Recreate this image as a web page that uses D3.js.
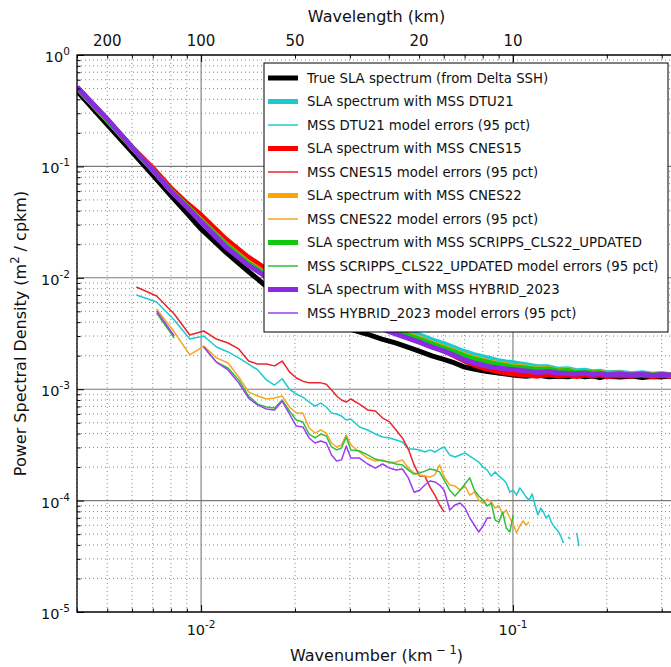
<!DOCTYPE html>
<html><head><meta charset="utf-8">
<script src="https://cdn.jsdelivr.net/npm/d3@7"></script>
<style>body{margin:0;background:#fff} svg{display:block} text{font-family:"DejaVu Sans",sans-serif;fill:#111}</style>
</head><body><svg id="c" width="671" height="667"></svg>
<script>
// ---------- data ----------
const kMain = [0.004,0.005,0.006,0.007,0.008,0.009,0.010,0.012,0.014,0.016,0.018,0.020,0.023,0.026,0.030,0.034,0.038,0.042,0.046,0.050,0.055,0.060,0.065,0.070,0.075,0.080,0.085,0.090,0.095,0.100,
  0.11,0.12,0.13,0.14,0.15,0.16,0.17,0.18,0.19,0.20,0.22,0.24,0.26,0.28,0.30,0.32,0.3333];
const psdTrue = [0.475,0.238,0.135,0.0837,0.0548,0.0382,0.0274,0.0170,0.01175,8.61e-3,6.72e-3,5.70e-3,4.73e-3,4.01e-3,3.47e-3,3.13e-3,2.82e-3,2.60e-3,2.39e-3,2.20e-3,1.99e-3,1.85e-3,1.72e-3,1.58e-3,1.52e-3,1.46e-3,1.43e-3,1.40e-3,1.37e-3,1.34e-3,
  1.31e-3,1.34e-3,1.29e-3,1.31e-3,1.29e-3,1.33e-3,1.29e-3,1.31e-3,1.27e-3,1.31e-3,1.29e-3,1.31e-3,1.27e-3,1.30e-3,1.29e-3,1.31e-3,1.29e-3];
const psdDTU21 = [0.511,0.261,0.149,0.0930,0.0614,0.0450,0.0344,0.0210,0.01475,0.01151,9.55e-3,8.09e-3,6.86e-3,5.94e-3,5.03e-3,4.45e-3,3.93e-3,3.54e-3,3.26e-3,3.06e-3,2.76e-3,2.55e-3,2.34e-3,2.16e-3,2.03e-3,1.95e-3,1.87e-3,1.79e-3,1.75e-3,1.72e-3,
  1.65e-3,1.58e-3,1.58e-3,1.50e-3,1.52e-3,1.46e-3,1.47e-3,1.43e-3,1.44e-3,1.40e-3,1.41e-3,1.37e-3,1.40e-3,1.355e-3,1.38e-3,1.34e-3,1.37e-3];
const psdCNES15 = [0.511,0.261,0.149,0.0967,0.0640,0.0469,0.0366,0.0223,0.0157,0.01225,0.01017,8.61e-3,7.16e-3,6.06e-3,5.03e-3,4.36e-3,3.77e-3,3.40e-3,3.13e-3,2.82e-3,2.49e-3,2.20e-3,1.99e-3,1.79e-3,1.65e-3,1.55e-3,1.49e-3,1.43e-3,1.40e-3,1.37e-3,
  1.34e-3,1.31e-3,1.355e-3,1.31e-3,1.34e-3,1.30e-3,1.34e-3,1.31e-3,1.34e-3,1.30e-3,1.33e-3,1.31e-3,1.34e-3,1.30e-3,1.33e-3,1.31e-3,1.34e-3];
const psdCNES22 = [0.511,0.261,0.149,0.0930,0.0607,0.0441,0.0330,0.0201,0.01415,0.01104,9.16e-3,7.77e-3,6.58e-3,5.70e-3,4.93e-3,4.36e-3,3.85e-3,3.47e-3,3.13e-3,2.88e-3,2.60e-3,2.39e-3,2.20e-3,2.03e-3,1.91e-3,1.83e-3,1.75e-3,1.70e-3,1.665e-3,1.61e-3,
  1.58e-3,1.52e-3,1.535e-3,1.47e-3,1.49e-3,1.43e-3,1.44e-3,1.40e-3,1.43e-3,1.38e-3,1.40e-3,1.355e-3,1.38e-3,1.34e-3,1.37e-3,1.34e-3,1.37e-3];
const psdSCRIPPS = [0.511,0.261,0.149,0.0930,0.0607,0.0441,0.0326,0.0199,0.01386,0.01082,8.96e-3,7.61e-3,6.45e-3,5.57e-3,4.83e-3,4.27e-3,3.77e-3,3.40e-3,3.06e-3,2.82e-3,2.55e-3,2.34e-3,2.16e-3,1.99e-3,1.87e-3,1.79e-3,1.72e-3,1.665e-3,1.63e-3,1.58e-3,
  1.55e-3,1.50e-3,1.52e-3,1.46e-3,1.47e-3,1.41e-3,1.43e-3,1.40e-3,1.41e-3,1.37e-3,1.38e-3,1.355e-3,1.37e-3,1.34e-3,1.355e-3,1.33e-3,1.355e-3];
const psdHYBRID = [0.516,0.267,0.149,0.0930,0.0601,0.0432,0.0317,0.0189,0.0133,0.01038,8.61e-3,7.30e-3,6.06e-3,5.24e-3,4.54e-3,3.93e-3,3.47e-3,3.13e-3,2.88e-3,2.65e-3,2.39e-3,2.20e-3,2.01e-3,1.83e-3,1.72e-3,1.65e-3,1.58e-3,1.55e-3,1.52e-3,1.50e-3,
  1.46e-3,1.41e-3,1.44e-3,1.40e-3,1.38e-3,1.37e-3,1.40e-3,1.355e-3,1.38e-3,1.34e-3,1.37e-3,1.34e-3,1.37e-3,1.33e-3,1.355e-3,1.34e-3,1.37e-3];

const kErr = [0.0062,0.0072,0.0082,0.0092,0.0102,0.0112,0.0122,0.0132,0.0142,0.0152,0.0162,0.0172,0.0182,0.0192,0.0202,0.0212,0.0222,0.0232,0.0242,0.0252,0.0262,0.0272,0.0282,0.0292,0.0302,
  0.0322,0.0342,0.0362,0.0382,0.0402,0.0422,0.0442,0.0462,0.0482,0.0502,0.0522,0.0542,0.0562,0.0582,0.0602,
  0.0627,0.0652,0.0677,0.0702,0.0727,0.0752,0.0777,0.0802,0.0827,0.0852,0.0877,0.0902,0.0927,0.0952,0.0977,0.1002,0.1027,0.1052,0.1077,0.1102,
  0.1127,0.1152,0.1177,0.1202,0.1227,0.1252,0.1277,0.1302,0.1327,0.1352,0.1377,0.1402,0.1427,0.1452,0.1477,0.1502,0.1527,0.1552,0.1577,0.1602,0.1627];
const errDTU21 = [7.0e-3,6.06e-3,4.18e-3,2.82e-3,3.0e-3,2.39e-3,2.16e-3,1.91e-3,1.68e-3,1.49e-3,1.21e-3,1.09e-3,1.24e-3,1.0e-3,9.05e-4,8.5e-4,7.67e-4,7.06e-4,7.5e-4,6.92e-4,6.11e-4,5.99e-4,5.74e-4,5.29e-4,5.40e-4,
  4.58e-4,4.30e-4,3.96e-4,3.72e-4,3.65e-4,3.50e-4,3.36e-4,2.90e-4,2.90e-4,2.85e-4,2.73e-4,2.85e-4,2.73e-4,2.90e-4,3.03e-4,
  2.57e-4,2.46e-4,2.57e-4,2.68e-4,2.51e-4,2.36e-4,2.22e-4,2.0e-4,1.88e-4,1.66e-4,1.81e-4,1.66e-4,1.56e-4,1.44e-4,1.19e-4,1.24e-4,1.12e-4,1.30e-4,1.19e-4,1.08e-4,
  1.01e-4,1.15e-4,9.12e-5,7.42e-5,8.58e-5,7.9e-5,6.98e-5,7.42e-5,6.42e-5,5.91e-5,5.56e-5,5.22e-5,4.71e-5,4.16e-5,null,4.71e-5,4.52e-5,null,null,5.12e-5,3.91e-5];
const errCNES15 = [8.27e-3,6.87e-3,4.73e-3,3.07e-3,3.33e-3,2.82e-3,2.60e-3,2.30e-3,1.79e-3,1.68e-3,1.68e-3,1.62e-3,1.79e-3,1.43e-3,1.26e-3,1.18e-3,1.14e-3,1.14e-3,1.14e-3,1.11e-3,9.83e-4,8.69e-4,8.0e-4,7.67e-4,8.17e-4,
  7.36e-4,6.51e-4,6.37e-4,5.51e-4,5.08e-4,4.30e-4,3.65e-4,2.90e-4,2.09e-4,1.66e-4,1.66e-4,1.32e-4,1.12e-4,9.13e-5,7.90e-5];
const errCNES22 = [null,5.24e-3,3.26e-3,2.03e-3,2.44e-3,1.91e-3,1.72e-3,1.29e-3,9.45e-4,8.68e-4,8.16e-4,8.33e-4,8.68e-4,6.92e-4,6.11e-4,6.11e-4,4.48e-4,4.04e-4,4.30e-4,4.04e-4,3.29e-4,3.03e-4,3.16e-4,3.88e-4,3.16e-4,
  2.73e-4,2.41e-4,2.27e-4,2.32e-4,2.18e-4,2.22e-4,2.32e-4,1.96e-4,1.77e-4,1.70e-4,1.66e-4,1.63e-4,1.70e-4,2.09e-4,1.63e-4,
  1.38e-4,1.35e-4,1.24e-4,1.35e-4,1.12e-4,1.19e-4,1.01e-4,9.51e-5,1.03e-4,9.71e-5,8.58e-5,8.94e-5,7.58e-5,8.23e-5,6.98e-5,6.16e-5,5.12e-5,5.91e-5,6.56e-5,6.04e-5,6.42e-5];
const errSCRIPPS = [null,4.83e-3,2.88e-3,null,2.39e-3,1.75e-3,1.55e-3,1.21e-3,8.68e-4,7.35e-4,6.92e-4,6.78e-4,7.99e-4,6.37e-4,5.29e-4,5.07e-4,3.96e-4,3.65e-4,3.96e-4,3.80e-4,3.03e-4,2.85e-4,2.97e-4,3.72e-4,2.85e-4,
  2.79e-4,2.57e-4,2.36e-4,2.27e-4,2.22e-4,2.13e-4,2.09e-4,1.88e-4,1.73e-4,1.77e-4,1.84e-4,1.92e-4,1.88e-4,1.81e-4,1.53e-4,
  1.24e-4,1.10e-4,1.24e-4,1.41e-4,1.60e-4,1.24e-4,1.10e-4,1.01e-4,8.94e-5,9.51e-5,6.69e-5,6.42e-5,7.9e-5,5.67e-5,5.22e-5,7.42e-5];
const errHYBRID = [null,5.03e-3,3.0e-3,null,2.39e-3,1.75e-3,1.49e-3,1.14e-3,8.33e-4,7.2e-4,6.64e-4,6.5e-4,7.83e-4,5.99e-4,4.67e-4,4.58e-4,3.65e-4,3.29e-4,3.43e-4,3.29e-4,2.57e-4,2.27e-4,2.32e-4,3.09e-4,2.41e-4,
  2.41e-4,2.13e-4,1.96e-4,2.13e-4,1.96e-4,1.88e-4,1.92e-4,1.60e-4,1.19e-4,1.24e-4,1.38e-4,1.50e-4,1.47e-4,1.38e-4,1.24e-4,
  8.23e-5,9.12e-5,9.51e-5,8.58e-5,6.98e-5,6.04e-5,5.22e-5,5.91e-5,6.98e-5,6.98e-5];

const legendLabels = ["True SLA spectrum (from Delta SSH)","SLA spectrum with MSS DTU21","MSS DTU21 model errors (95 pct)",
  "SLA spectrum with MSS CNES15","MSS CNES15 model errors (95 pct)","SLA spectrum with MSS CNES22","MSS CNES22 model errors (95 pct)",
  "SLA spectrum with MSS SCRIPPS_CLS22_UPDATED","MSS SCRIPPS_CLS22_UPDATED model errors (95 pct)",
  "SLA spectrum with MSS HYBRID_2023","MSS HYBRID_2023 model errors (95 pct)"];
const yTickValues = [1,1e-1,1e-2,1e-3,1e-4,1e-5];
const yTickExps = ["0","-1","-2","-3","-4","-5"];
const xTickValues = [0.01,0.1];
const xTickExps = ["-2","-1"];
const wavelengthTicks = [200,100,50,20,10];

// ---------- layout ----------
const svg = d3.select("#c");
const L=77, R=676, T=55, B=612;
const x = d3.scaleLog().domain([0.004, 1/3]).range([L, R]);
const y = d3.scaleLog().domain([1e-5, 1]).range([B, T]);

const isMajor = v => Math.abs(Math.log10(v) - Math.round(Math.log10(v))) < 1e-6;
const xt = x.ticks(), yt = y.ticks();
const xMajor = xt.filter(isMajor), xMinor = xt.filter(v=>!isMajor(v));
const yMajor = yt.filter(isMajor), yMinor = yt.filter(v=>!isMajor(v));

// grid
const g = svg.append("g");
g.selectAll(".vmin").data(xMinor).join("line")
  .attr("x1",d=>x(d)).attr("x2",d=>x(d)).attr("y1",T).attr("y2",B)
  .attr("stroke","#8a8a8a").attr("stroke-width",1).attr("stroke-dasharray","1,3");
g.selectAll(".hmin").data(yMinor).join("line")
  .attr("y1",d=>y(d)).attr("y2",d=>y(d)).attr("x1",L).attr("x2",R)
  .attr("stroke","#8a8a8a").attr("stroke-width",1).attr("stroke-dasharray","1,3");
g.selectAll(".vmaj").data(xMajor).join("line")
  .attr("x1",d=>x(d)).attr("x2",d=>x(d)).attr("y1",T).attr("y2",B)
  .attr("stroke","#7a7a7a").attr("stroke-width",1.1);
g.selectAll(".hmaj").data(yMajor).join("line")
  .attr("y1",d=>y(d)).attr("y2",d=>y(d)).attr("x1",L).attr("x2",R)
  .attr("stroke","#7a7a7a").attr("stroke-width",1.1);

// clip
svg.append("defs").append("clipPath").attr("id","clip").append("rect")
  .attr("x",L).attr("y",T).attr("width",R-L).attr("height",B-T);
const plot = svg.append("g").attr("clip-path","url(#clip)");

const lineMain = d3.line().defined(d=>d!=null).x((d,i)=>x(kMain[i])).y(d=>y(d));
const lineErr = d3.line().defined(d=>d!=null).x((d,i)=>x(kErr[i])).y(d=>y(d));

const series = [
  {d:psdTrue, main:true, c:"#000000", w:5},
  {d:psdDTU21, main:true, c:"#1ccad0", w:5.5},
  {d:errDTU21, main:false, c:"#1ccad0", w:1.5},
  {d:psdCNES15, main:true, c:"#ff0000", w:5},
  {d:errCNES15, main:false, c:"#e8262b", w:1.5},
  {d:psdCNES22, main:true, c:"#ffa500", w:5},
  {d:errCNES22, main:false, c:"#f5a623", w:1.5},
  {d:psdSCRIPPS, main:true, c:"#10c810", w:5},
  {d:errSCRIPPS, main:false, c:"#2fbf3c", w:1.5},
  {d:psdHYBRID, main:true, c:"#8a2be2", w:5},
  {d:errHYBRID, main:false, c:"#9a3ff0", w:1.5}
];
series.forEach(s=>{
  plot.append("path").attr("d",(s.main?lineMain:lineErr)(s.d))
    .attr("fill","none").attr("stroke",s.c).attr("stroke-width",s.w)
    .attr("stroke-linejoin","round");
});

// ticks (inward)
function ticks(axisFn, scale, vals, size, transform){
  const a = axisFn(scale).tickValues(vals).tickSize(-size).tickFormat("");
  const gg = svg.append("g").attr("transform",transform).call(a);
  gg.select(".domain").remove();
  gg.selectAll("line").attr("stroke","#000").attr("stroke-width",1);
}
ticks(d3.axisBottom, x, xMajor, 7, `translate(0,${B})`);
ticks(d3.axisBottom, x, xMinor, 3.5, `translate(0,${B})`);
ticks(d3.axisTop, x, xMajor, 7, `translate(0,${T})`);
ticks(d3.axisTop, x, xMinor, 3.5, `translate(0,${T})`);
ticks(d3.axisLeft, y, yMajor, 7, `translate(${L},0)`);
ticks(d3.axisLeft, y, yMinor, 3.5, `translate(${L},0)`);

// frame
svg.append("rect").attr("x",L).attr("y",T).attr("width",R-L).attr("height",B-T)
  .attr("fill","none").attr("stroke","#000").attr("stroke-width",1.3);

// y tick labels
yTickValues.forEach((v,i)=>{
  const t = svg.append("text").attr("x",70).attr("y",y(v)+7).attr("text-anchor","end").attr("font-size",14.5);
  t.append("tspan").text("10");
  t.append("tspan").attr("dy",-7).attr("font-size",10.5).text(yTickExps[i]);
});
// x tick labels
xTickValues.forEach((v,i)=>{
  const t = svg.append("text").attr("x",x(v)).attr("y",635).attr("text-anchor","middle").attr("font-size",14.5);
  t.append("tspan").text("10");
  t.append("tspan").attr("dy",-7).attr("font-size",10.5).text(xTickExps[i]);
});
// top labels (wavelength)
wavelengthTicks.forEach(w=>{
  svg.append("text").attr("x",x(1/w)).attr("y",46).attr("text-anchor","middle").attr("font-size",15).text(String(w));
});

// titles
const cx = (L+R)/2;
svg.append("text").attr("x",cx).attr("y",22).attr("text-anchor","middle").attr("font-size",16).text("Wavelength (km)");
const xt2 = svg.append("text").attr("x",cx).attr("y",661).attr("text-anchor","middle").attr("font-size",16);
xt2.append("tspan").text("Wavenumber (km");
xt2.append("tspan").attr("dy",-7).attr("font-size",11.5).text(" \u2212 1");
xt2.append("tspan").attr("dy",7).text(")");
const yt2 = svg.append("text").attr("transform",`translate(26,${(T+B)/2}) rotate(-90)`).attr("text-anchor","middle").attr("font-size",16);
yt2.append("tspan").text("Power Spectral Density (m");
yt2.append("tspan").attr("dy",-7).attr("font-size",11.5).text("2");
yt2.append("tspan").attr("dy",7).text(" / cpkm)");

// legend
const lg = svg.append("g");
lg.append("rect").attr("x",264).attr("y",63).attr("width",404).attr("height",269)
  .attr("fill","#fff").attr("stroke","#000").attr("stroke-width",1);
legendLabels.forEach((lab,i)=>{
  const s = series[i], yy = 78 + i*23.5;
  lg.append("line").attr("x1",268).attr("x2",298).attr("y1",yy).attr("y2",yy)
    .attr("stroke",s.c).attr("stroke-width",s.main?5:1.5);
  lg.append("text").attr("x",307).attr("y",yy).attr("dy","0.36em").attr("font-size",13.3).text(lab);
});
</script></body></html>
